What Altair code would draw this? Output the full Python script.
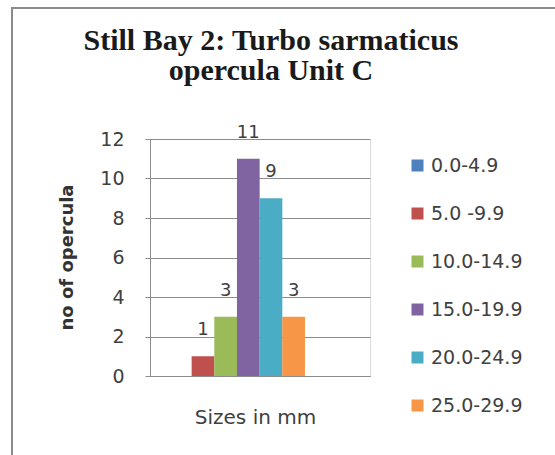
import altair as alt
import pandas as pd

# Opercula counts per size class (mm), single category "Sizes in mm"
size_classes = ["0.0-4.9", "5.0 -9.9", "10.0-14.9", "15.0-19.9", "20.0-24.9", "25.0-29.9"]
counts = [0, 1, 3, 11, 9, 3]
category = "Sizes in mm"
y_ticks = [0, 2, 4, 6, 8, 10, 12]
palette = ["#4F81BD", "#C0504D", "#9BBB59", "#8064A2", "#4BACC6", "#F79646"]

df = pd.DataFrame({
    "cat": [category] * len(size_classes),
    "size": size_classes,
    "count": counts,
    "label": [str(c) if c > 0 else "" for c in counts],
})

SANS = "DejaVu Sans"
TEXT = "#404040"
GRID = "#8c8c8c"

x_enc = alt.X(
    "cat:N",
    scale=alt.Scale(paddingInner=0, paddingOuter=0.309, align=0.226),
    axis=alt.Axis(
        labels=False, ticks=False, domain=True, domainColor=GRID, grid=False,
        title=category, titleFont=SANS, titleFontSize=20, titleFontWeight="normal",
        titleColor=TEXT, titleX=105, titleY=41, titleBaseline="middle", titleAlign="center",
    ),
)
y_enc = alt.Y(
    "count:Q",
    scale=alt.Scale(domain=[0, 12], nice=False),
    axis=alt.Axis(
        values=y_ticks, grid=True, gridColor=GRID, gridWidth=1,
        domainColor=GRID, tickColor=GRID, tickSize=5, labelPadding=21,
        labelFont=SANS, labelFontSize=19, labelColor=TEXT,
        title="no of opercula", titleFont=SANS, titleFontSize=18, titleFontWeight="bold",
        titleColor="#333333", titleX=-78, titleY=118, titleBaseline="alphabetic",
        titleAlign="center", titleAngle=270,
    ),
)
xoff_enc = alt.XOffset("size:N", sort=size_classes, scale=alt.Scale(paddingInner=0, paddingOuter=0))

base = alt.Chart(df).encode(x=x_enc, y=y_enc, xOffset=xoff_enc)

bars = base.mark_bar(size=22.7).encode(
    color=alt.Color(
        "size:N", sort=size_classes,
        scale=alt.Scale(domain=size_classes, range=palette),
        legend=alt.Legend(
            title=None, orient="none", legendX=258, legendY=17,
            symbolType="square", symbolSize=144, symbolStrokeWidth=0,
            labelFont=SANS, labelFontSize=19, labelColor=TEXT,
            rowPadding=28, labelOffset=4,
        ),
    ),
)

labels = base.mark_text(
    font=SANS, fontSize=18, color=TEXT, baseline="bottom", dy=-17
).encode(text="label:N")

# outer border of the chart object
frame = alt.Chart(pd.DataFrame({"a": [0]})).mark_rect(
    fill=None, stroke="#8a8a8a", strokeWidth=2
).encode(
    x=alt.value(-138), x2=alt.value(420), y=alt.value(-131), y2=alt.value(330)
)

chart = alt.layer(frame, bars, labels).properties(
    width=220,
    height=237,
    autosize=alt.AutoSizeParams(type="none"),
    padding={"left": 150, "top": 139, "right": 185, "bottom": 79},
    title=alt.TitleParams(
        text=["Still Bay 2: Turbo sarmaticus", "opercula Unit C"],
        font="Liberation Serif", fontSize=30, fontWeight="bold", color="#1a1a1a",
        anchor="middle", dx=11, offset=-79, lineHeight=30, frame="group",
    ),
).configure_view(stroke=None).configure(background="white")

chart.save("out.html", embed_options={"renderer": "svg", "actions": False})
